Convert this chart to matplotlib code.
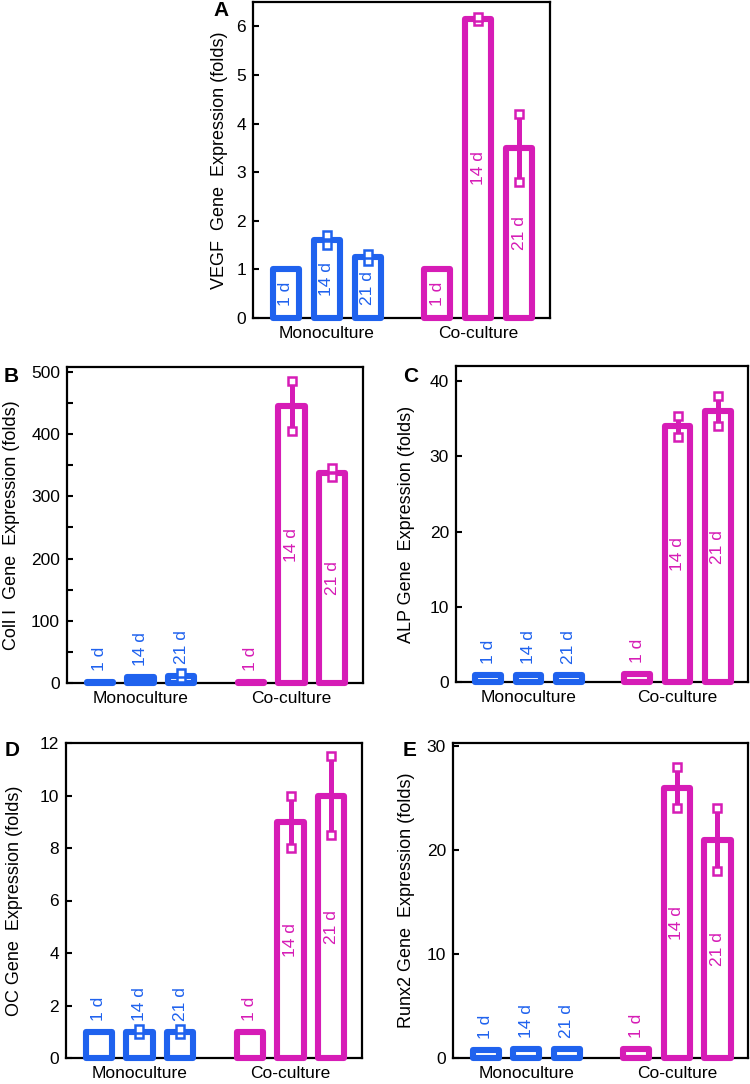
import matplotlib.pyplot as plt
from matplotlib.ticker import MultipleLocator

plt.rcParams['font.family'] = ['Liberation Sans', 'DejaVu Sans']

# ---- data ----
days = ['1 d', '14 d', '21 d']
groups = ['Monoculture', 'Co-culture']

vegf_mono = [1.0, 1.6, 1.25]
vegf_mono_err = [0, 0.1, 0.07]
vegf_co = [1.0, 6.15, 3.5]
vegf_co_err = [0, 0.05, 0.7]

col1_mono = [2, 10, 12]
col1_mono_err = [0, 0, 4]
col1_co = [2, 445, 338]
col1_co_err = [0, 40, 7]

alp_mono = [0.95, 0.9, 0.9]
alp_mono_err = [0, 0, 0]
alp_co = [1.0, 34, 36]
alp_co_err = [0, 1.4, 2]

oc_mono = [1.0, 1.0, 1.0]
oc_mono_err = [0, 0.1, 0.1]
oc_co = [1.0, 9, 10]
oc_co_err = [0, 1, 1.5]

runx2_mono = [0.8, 0.85, 0.85]
runx2_mono_err = [0, 0, 0]
runx2_co = [0.85, 26, 21]
runx2_co_err = [0, 2, 3]

BLUE = '#1f62ee'
MAGENTA = '#d61cb6'

mono_x = [0, 1, 2]
co_x = [3.7, 4.7, 5.7]


def px_axes(fig, x0, y0, x1, y1):
    W, H = 750, 1084
    return fig.add_axes([x0 / W, 1 - y1 / H, (x1 - x0) / W, (y1 - y0) / H])


def draw_panel(ax, mono, mono_err, co, co_err, ymax, ylabel, inside, label_x, minor=None):
    for xs, vals, errs, c in [(mono_x, mono, mono_err, BLUE), (co_x, co, co_err, MAGENTA)]:
        bars = ax.bar(xs, vals, width=0.64, facecolor='white', edgecolor=c,
                      linewidth=4.4, zorder=3, clip_on=False)
        for b in bars:
            b.set_joinstyle('round')
        for x, v, e, d in zip(xs, vals, errs, days):
            if e > 0:
                ax.plot([x, x], [v - e, v + e], color=c, lw=3.6, zorder=4, solid_capstyle='butt')
                ax.plot([x, x], [v - e, v + e], ls='none', marker='s', ms=5.5,
                        mfc='white', mec=c, mew=1.8, zorder=5)
            if inside or v / ymax > 0.2:
                ax.text(x, v / 2, d, rotation=90, color=c, fontsize=12.5,
                        ha='center', va='center', zorder=6)
            else:
                ax.annotate(d, (x, v), xytext=(0, 8), textcoords='offset points',
                            rotation=90, color=c, fontsize=12.5,
                            ha='center', va='bottom', zorder=6)
    ax.set_xlim(-0.8, 6.45)
    ax.set_ylim(0, ymax)
    ax.set_xticks([mono_x[1], co_x[1]])
    ax.set_xticklabels(groups, fontsize=12.5)
    ax.tick_params(axis='x', length=0, pad=6)
    ax.tick_params(axis='y', direction='in', length=4, width=1.5, labelsize=12.5, pad=5, right=False)
    if minor:
        ax.yaxis.set_minor_locator(MultipleLocator(minor))
        ax.tick_params(axis='y', which='minor', direction='in', length=4, width=1.5)
    for s in ax.spines.values():
        s.set_linewidth(1.6)
    ax.set_ylabel(ylabel, fontsize=13)
    ax.yaxis.set_label_coords(label_x, 0.5)


fig = plt.figure(figsize=(7.5, 10.84), dpi=100)

axA = px_axes(fig, 253, 2, 550, 318)
draw_panel(axA, vegf_mono, vegf_mono_err, vegf_co, vegf_co_err, 6.5,
           'VEGF  Gene  Expression (folds)', True, -0.085)
axA.set_yticks(range(0, 7))

axB = px_axes(fig, 67, 367, 363, 683)
draw_panel(axB, col1_mono, col1_mono_err, col1_co, col1_co_err, 508,
           'Coll I  Gene  Expression (folds)', False, -0.16, minor=50)
axB.set_yticks(range(0, 501, 100))

axC = px_axes(fig, 456, 366, 748, 682)
draw_panel(axC, alp_mono, alp_mono_err, alp_co, alp_co_err, 42,
           'ALP Gene  Expression (folds)', False, -0.14)
axC.set_yticks(range(0, 41, 10))

axD = px_axes(fig, 66, 743, 362, 1058)
draw_panel(axD, oc_mono, oc_mono_err, oc_co, oc_co_err, 12,
           'OC Gene  Expression (folds)', False, -0.145)
axD.set_yticks(range(0, 13, 2))

axE = px_axes(fig, 453, 743, 748, 1058)
draw_panel(axE, runx2_mono, runx2_mono_err, runx2_co, runx2_co_err, 30.3,
           'Runx2 Gene  Expression (folds)', False, -0.13)
axE.set_yticks(range(0, 31, 10))

for lab, x, y in [('A', 221, 11), ('B', 11, 376), ('C', 411, 376), ('D', 12, 750), ('E', 410, 750)]:
    fig.text(x / 750, 1 - y / 1084, lab, fontsize=15, fontweight='bold', ha='center', va='center')

fig.savefig('out.png', dpi=100)
